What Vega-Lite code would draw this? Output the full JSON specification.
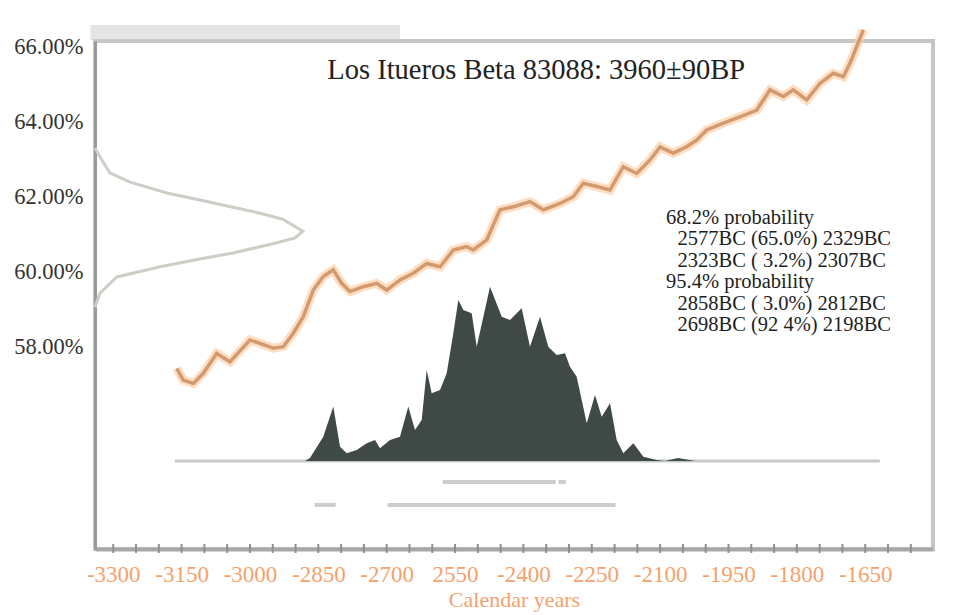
{
  "$schema": "https://vega.github.io/schema/vega-lite/v6.json",
  "width": 838,
  "height": 508,
  "autosize": {"type": "none"},
  "padding": {"left": 95, "top": 41, "right": 20, "bottom": 66},
  "background": "white",
  "config": {
    "view": {"stroke": "#c6c6c6", "strokeWidth": 4},
    "font": "Liberation Serif"
  },
  "datasets": {
    "curve": [
      {"x": -3160.7, "y": 57.42}, {"x": -3146.3, "y": 57.11}, {"x": -3124.3, "y": 57.02}, {"x": -3102.4, "y": 57.29},
      {"x": -3073, "y": 57.82}, {"x": -3043.8, "y": 57.6}, {"x": -3000, "y": 58.18}, {"x": -2978, "y": 58.09},
      {"x": -2948.8, "y": 57.96}, {"x": -2926.8, "y": 58.0}, {"x": -2904.9, "y": 58.36}, {"x": -2883, "y": 58.8},
      {"x": -2861, "y": 59.51}, {"x": -2839.1, "y": 59.87}, {"x": -2817.1, "y": 60.05}, {"x": -2798.7, "y": 59.69},
      {"x": -2780.5, "y": 59.47}, {"x": -2751.3, "y": 59.6}, {"x": -2721.9, "y": 59.69}, {"x": -2700, "y": 59.51},
      {"x": -2670.8, "y": 59.78}, {"x": -2641.6, "y": 59.96}, {"x": -2612.2, "y": 60.22}, {"x": -2583, "y": 60.13},
      {"x": -2553.8, "y": 60.58}, {"x": -2524.4, "y": 60.67}, {"x": -2509.9, "y": 60.58}, {"x": -2480.5, "y": 60.85},
      {"x": -2451.4, "y": 61.65}, {"x": -2422.2, "y": 61.73}, {"x": -2385.6, "y": 61.87}, {"x": -2356.4, "y": 61.65},
      {"x": -2319.7, "y": 61.82}, {"x": -2290.5, "y": 62.0}, {"x": -2268.6, "y": 62.36}, {"x": -2239.2, "y": 62.27},
      {"x": -2210, "y": 62.18}, {"x": -2180.8, "y": 62.8}, {"x": -2151.4, "y": 62.62}, {"x": -2122.2, "y": 62.98},
      {"x": -2100.2, "y": 63.33}, {"x": -2071, "y": 63.16}, {"x": -2041.7, "y": 63.33}, {"x": -2019.7, "y": 63.51},
      {"x": -1997.8, "y": 63.78}, {"x": -1961.4, "y": 63.96}, {"x": -1924.8, "y": 64.13}, {"x": -1888.1, "y": 64.31},
      {"x": -1858.9, "y": 64.85}, {"x": -1829.8, "y": 64.67}, {"x": -1807.8, "y": 64.85}, {"x": -1778.4, "y": 64.58},
      {"x": -1749.3, "y": 65.02}, {"x": -1720.1, "y": 65.29}, {"x": -1698.1, "y": 65.2}, {"x": -1683.4, "y": 65.56},
      {"x": -1668.7, "y": 66.0}, {"x": -1654.2, "y": 66.45}
    ],
    "gauss": [
      {"i": 0, "gx": -3340, "gy": 63.3}, {"i": 1, "gx": -3329, "gy": 63.06}, {"i": 2, "gx": -3307, "gy": 62.63},
      {"i": 3, "gx": -3263, "gy": 62.39}, {"i": 4, "gx": -3182, "gy": 62.1}, {"i": 5, "gx": -3110, "gy": 61.91},
      {"i": 6, "gx": -3037, "gy": 61.72}, {"i": 7, "gx": -2978, "gy": 61.56}, {"i": 8, "gx": -2928, "gy": 61.4},
      {"i": 9, "gx": -2884, "gy": 61.08}, {"i": 10, "gx": -2901, "gy": 60.9}, {"i": 11, "gx": -2941, "gy": 60.77},
      {"i": 12, "gx": -3037, "gy": 60.5}, {"i": 13, "gx": -3110, "gy": 60.34}, {"i": 14, "gx": -3197, "gy": 60.13},
      {"i": 15, "gx": -3292, "gy": 59.86}, {"i": 16, "gx": -3329, "gy": 59.43}, {"i": 17, "gx": -3340, "gy": 59.05}
    ],
    "hist": [
      {"hx": -2879.2, "h": 0}, {"hx": -2868.3, "h": 0.017}, {"hx": -2839.1, "h": 0.139}, {"hx": -2817.1, "h": 0.312},
      {"hx": -2802.4, "h": 0.082}, {"hx": -2787.7, "h": 0.044}, {"hx": -2765.8, "h": 0.063}, {"hx": -2743.8, "h": 0.102},
      {"hx": -2725.6, "h": 0.12}, {"hx": -2714.7, "h": 0.073}, {"hx": -2692.7, "h": 0.12}, {"hx": -2670.8, "h": 0.139},
      {"hx": -2652.6, "h": 0.312}, {"hx": -2637.9, "h": 0.178}, {"hx": -2623.2, "h": 0.235}, {"hx": -2612.2, "h": 0.522},
      {"hx": -2601.2, "h": 0.388}, {"hx": -2583, "h": 0.407}, {"hx": -2568.3, "h": 0.503}, {"hx": -2553.8, "h": 0.733},
      {"hx": -2542.8, "h": 0.924}, {"hx": -2531.9, "h": 0.866}, {"hx": -2513.5, "h": 0.847}, {"hx": -2502.5, "h": 0.656},
      {"hx": -2473.3, "h": 1.0}, {"hx": -2447.6, "h": 0.828}, {"hx": -2429.4, "h": 0.809}, {"hx": -2403.8, "h": 0.876},
      {"hx": -2385.6, "h": 0.656}, {"hx": -2363.6, "h": 0.828}, {"hx": -2345.4, "h": 0.656}, {"hx": -2327, "h": 0.608},
      {"hx": -2308.8, "h": 0.618}, {"hx": -2297.8, "h": 0.541}, {"hx": -2283.1, "h": 0.484}, {"hx": -2272.1, "h": 0.35},
      {"hx": -2261.1, "h": 0.216}, {"hx": -2242.9, "h": 0.379}, {"hx": -2228.2, "h": 0.254}, {"hx": -2210, "h": 0.331},
      {"hx": -2195.3, "h": 0.12}, {"hx": -2180.8, "h": 0.044}, {"hx": -2158.8, "h": 0.102}, {"hx": -2136.9, "h": 0.025},
      {"hx": -2107.5, "h": 0.006}, {"hx": -2089.3, "h": 0}, {"hx": -2060.8, "h": 0.017}, {"hx": -2023.5, "h": 0}
    ],
    "ranges": [
      {"lvl": "68.2%", "from": -2577, "to": -2329},
      {"lvl": "68.2%", "from": -2323, "to": -2307},
      {"lvl": "95.4%", "from": -2858, "to": -2812},
      {"lvl": "95.4%", "from": -2698, "to": -2198}
    ],
    "minor": [
      {"t": -3300}, {"t": -3250}, {"t": -3200}, {"t": -3150}, {"t": -3100}, {"t": -3050}, {"t": -3000}, {"t": -2950},
      {"t": -2900}, {"t": -2850}, {"t": -2800}, {"t": -2750}, {"t": -2700}, {"t": -2650}, {"t": -2600}, {"t": -2550},
      {"t": -2500}, {"t": -2450}, {"t": -2400}, {"t": -2350}, {"t": -2300}, {"t": -2250}, {"t": -2200}, {"t": -2150},
      {"t": -2100}, {"t": -2050}, {"t": -2000}, {"t": -1950}, {"t": -1900}, {"t": -1850}, {"t": -1800}, {"t": -1750},
      {"t": -1700}, {"t": -1650}, {"t": -1600}, {"t": -1550}
    ]
  },
  "layer": [
    {
      "layer": [
        {
          "data": {"values": [{}]},
          "mark": {"type": "rect", "color": "#cdcdcd", "opacity": 0.55},
          "encoding": {
            "x": {"datum": -3350, "type": "quantitative"},
            "x2": {"datum": -2671},
            "y": {"datum": 66.18, "type": "quantitative"},
            "y2": {"datum": 66.58}
          }
        },
        {
          "data": {"name": "gauss"},
          "mark": {"type": "line", "color": "#cdcec6", "strokeWidth": 3},
          "encoding": {
            "x": {"field": "gx", "type": "quantitative"},
            "y": {"field": "gy", "type": "quantitative"},
            "order": {"field": "i", "type": "quantitative"}
          }
        },
        {
          "data": {"name": "curve"},
          "mark": {"type": "line", "color": "#fdd0aa", "strokeWidth": 9, "opacity": 0.7},
          "encoding": {
            "x": {"field": "x", "type": "quantitative",
              "scale": {"domain": [-3340, -1501.3], "nice": false, "zero": false},
              "axis": {
                "values": [-3300, -3150, -3000, -2850, -2700, -2550, -2400, -2250, -2100, -1950, -1800, -1650],
                "labelExpr": "datum.value == -2550 ? '2550' : '-' + abs(datum.value)",
                "labelOverlap": false,
                "labelFlush": false,
                "labelColor": "#f4a26c",
                "labelFont": "Liberation Serif",
                "labelFontSize": 23,
                "labelPadding": 14,
                "ticks": false,
                "domainColor": "#a8a8a8",
                "domainWidth": 4,
                "grid": false,
                "title": "Calendar years",
                "titleColor": "#f4a26c",
                "titleFont": "Liberation Serif",
                "titleFontSize": 22,
                "titleFontWeight": "normal",
                "titlePadding": 3
              }
            },
            "y": {"field": "y", "type": "quantitative",
              "scale": {"domain": [52.605, 66.152], "nice": false, "zero": false},
              "axis": {
                "values": [58, 60, 62, 64, 66],
                "labelExpr": "format(datum.value, '.2f') + '%'",
                "labelOverlap": false,
                "labelFlush": false,
                "labelColor": "#333333",
                "labelFont": "Liberation Serif",
                "labelFontSize": 22.5,
                "labelPadding": 12,
                "ticks": false,
                "domainColor": "#9a9a9a",
                "domainWidth": 3,
                "grid": false,
                "title": null
              }
            }
          }
        },
        {
          "data": {"name": "curve"},
          "mark": {"type": "line", "color": "#d39a70", "strokeWidth": 3.5},
          "encoding": {
            "x": {"field": "x", "type": "quantitative"},
            "y": {"field": "y", "type": "quantitative"}
          }
        },
        {
          "data": {"name": "minor"},
          "mark": {"type": "rule", "color": "#8f8f8f", "strokeWidth": 2},
          "encoding": {
            "x": {"field": "t", "type": "quantitative"},
            "y": {"datum": 52.5, "type": "quantitative"},
            "y2": {"datum": 52.74}
          }
        },
        {
          "data": {"values": [{}]},
          "mark": {"type": "text", "font": "Liberation Serif", "fontSize": 28.5, "color": "#222222", "align": "center", "baseline": "middle"},
          "encoding": {
            "x": {"datum": -2372, "type": "quantitative"},
            "y": {"datum": 65.38, "type": "quantitative"},
            "text": {"value": "Los Itueros Beta 83088: 3960±90BP"}
          }
        },
        {
          "data": {"values": [{}]},
          "mark": {"type": "text", "font": "Liberation Serif", "fontSize": 20.5, "color": "#1e1e1e", "align": "left", "baseline": "alphabetic"},
          "encoding": {
            "x": {"datum": -2087, "type": "quantitative"},
            "y": {"datum": 61.272, "type": "quantitative"},
            "text": {"value": "68.2% probability"}
          }
        },
        {
          "data": {"values": [{}]},
          "mark": {"type": "text", "font": "Liberation Serif", "fontSize": 20.5, "color": "#1e1e1e", "align": "left", "baseline": "alphabetic", "lineHeight": 21.5},
          "encoding": {
            "x": {"datum": -2062, "type": "quantitative"},
            "y": {"datum": 60.699, "type": "quantitative"},
            "text": {"value": ["2577BC (65.0%) 2329BC", "2323BC ( 3.2%) 2307BC"]}
          }
        },
        {
          "data": {"values": [{}]},
          "mark": {"type": "text", "font": "Liberation Serif", "fontSize": 20.5, "color": "#1e1e1e", "align": "left", "baseline": "alphabetic"},
          "encoding": {
            "x": {"datum": -2087, "type": "quantitative"},
            "y": {"datum": 59.552, "type": "quantitative"},
            "text": {"value": "95.4% probability"}
          }
        },
        {
          "data": {"values": [{}]},
          "mark": {"type": "text", "font": "Liberation Serif", "fontSize": 20.5, "color": "#1e1e1e", "align": "left", "baseline": "alphabetic", "lineHeight": 21.5},
          "encoding": {
            "x": {"datum": -2062, "type": "quantitative"},
            "y": {"datum": 58.979, "type": "quantitative"},
            "text": {"value": ["2858BC ( 3.0%) 2812BC", "2698BC (92 4%) 2198BC"]}
          }
        }
      ]
    },
    {
      "layer": [
        {
          "data": {"values": [{}]},
          "mark": {"type": "rule", "color": "#c5cac8", "strokeWidth": 3},
          "encoding": {
            "x": {"datum": -3165, "type": "quantitative"},
            "x2": {"datum": -1618},
            "y": {"datum": 0, "type": "quantitative",
              "scale": {"domain": [-0.5049, 2.4096], "nice": false, "zero": false},
              "axis": null}
          }
        },
        {
          "data": {"name": "hist"},
          "mark": {"type": "area", "color": "#3f4a46", "interpolate": "linear"},
          "encoding": {
            "x": {"field": "hx", "type": "quantitative"},
            "y": {"field": "h", "type": "quantitative"},
            "y2": {"datum": 0}
          }
        },
        {
          "data": {"name": "ranges"},
          "transform": [{"filter": "datum.lvl == '68.2%'"}],
          "mark": {"type": "rule", "color": "#cdcdcd", "strokeWidth": 4},
          "encoding": {
            "x": {"field": "from", "type": "quantitative"},
            "x2": {"field": "to"},
            "y": {"datum": -0.12, "type": "quantitative"}
          }
        },
        {
          "data": {"name": "ranges"},
          "transform": [{"filter": "datum.lvl == '95.4%'"}],
          "mark": {"type": "rule", "color": "#cdcdcd", "strokeWidth": 4},
          "encoding": {
            "x": {"field": "from", "type": "quantitative"},
            "x2": {"field": "to"},
            "y": {"datum": -0.252, "type": "quantitative"}
          }
        }
      ]
    }
  ],
  "resolve": {"scale": {"y": "independent"}}
}
